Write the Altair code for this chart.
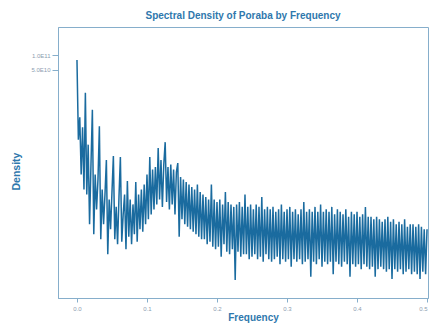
import altair as alt
import pandas as pd

# Periodogram (log10 of the density), frequency grid step 0.002
log10_density = [
    10.90, 9.30, 9.75, 8.60, 9.55, 8.30, 10.24, 8.20, 9.20, 7.60,
    8.80, 9.90, 7.40, 8.60, 7.90, 8.50, 9.57, 7.30, 8.30, 7.60,
    8.20, 8.89, 7.00, 8.10, 7.50, 8.25, 8.97, 7.30, 7.95, 7.20,
    8.15, 8.95, 7.25, 7.80, 8.20, 7.10, 8.47, 7.35, 8.10, 7.20,
    8.00, 7.40, 8.45, 7.25, 8.20, 7.50, 8.30, 7.45, 8.40, 7.60,
    8.60, 7.70, 8.95, 7.80, 8.70, 7.90, 8.75, 8.00, 9.13, 8.10,
    8.89, 7.95, 8.80, 9.25, 8.05, 8.75, 7.90, 8.80, 8.00, 8.70,
    7.80, 8.65, 8.83, 7.35, 8.55, 7.70, 8.50, 7.60, 8.45, 7.55,
    8.40, 7.50, 8.35, 7.45, 8.30, 7.40, 8.40, 7.35, 8.25, 7.30,
    8.20, 7.30, 8.15, 7.20, 8.10, 7.25, 8.40, 7.15, 8.10, 7.10,
    8.05, 7.15, 8.10, 6.95, 8.00, 7.20, 8.25, 7.05, 8.05, 7.00,
    8.00, 7.10, 7.95, 6.48, 8.00, 7.05, 8.05, 6.95, 7.95, 7.00,
    8.20, 7.00, 7.95, 6.90, 8.00, 6.95, 7.90, 7.00, 8.00, 6.90,
    7.95, 6.95, 8.15, 6.85, 7.90, 7.00, 7.95, 6.90, 7.90, 6.85,
    7.95, 6.90, 7.85, 6.95, 7.90, 6.80, 8.00, 6.90, 7.85, 6.85,
    7.90, 6.90, 7.95, 6.75, 7.85, 6.90, 7.90, 6.85, 7.80, 6.90,
    7.90, 6.80, 8.05, 6.85, 7.85, 6.90, 7.90, 6.55, 7.85, 6.85,
    7.95, 6.80, 7.85, 6.90, 8.00, 6.75, 7.85, 6.85, 7.90, 6.80,
    7.85, 6.85, 7.95, 6.60, 7.80, 6.85, 7.90, 6.80, 7.85, 6.75,
    7.80, 6.85, 7.90, 6.80, 7.75, 6.55, 7.85, 6.80, 7.80, 6.75,
    7.85, 6.80, 7.75, 6.70, 7.80, 6.80, 7.95, 6.75, 7.75, 6.70,
    7.75, 6.75, 7.70, 6.55, 7.75, 6.70, 7.70, 6.75, 7.65, 6.70,
    7.70, 6.65, 7.75, 6.70, 7.65, 6.50, 7.70, 6.70, 7.60, 6.65,
    7.65, 6.70, 7.60, 6.60, 7.70, 6.65, 7.55, 6.70, 7.60, 6.60,
    7.60, 6.65, 7.55, 6.60, 7.60, 6.50, 7.55, 6.65, 7.50, 6.60,
    7.50,
]
n_points = len(log10_density)
frequency = [round(i * 0.002, 3) for i in range(n_points)]

df = pd.DataFrame({
    "Frequency": frequency,
    "Density": [10 ** v for v in log10_density],
})

axis_col = "#86aecb"
label_col = "#8c9db0"
title_col = "#2f78ad"
line_col = "#1a6b9f"

chart = alt.Chart(df).mark_line(color=line_col, strokeWidth=1.5).encode(
    x=alt.X("Frequency:Q",
            scale=alt.Scale(domain=[-0.0271, 0.5014], nice=False, zero=False),
            axis=alt.Axis(values=[0, 0.1, 0.2, 0.3, 0.4, 0.5], format=".1f",
                          grid=False, tickSize=4, labelPadding=3,
                          labelFontSize=6, labelColor=label_col,
                          domainColor=axis_col, tickColor=axis_col,
                          title="Frequency", titleFontSize=10,
                          titleFontWeight="bold", titleColor=title_col,
                          titlePadding=1, titleX=195)),
    y=alt.Y("Density:Q",
            scale=alt.Scale(type="log", domain=[1.32e6, 3.65e11], nice=False),
            axis=alt.Axis(values=[5e10, 1e11],
                          labelExpr="datum.value >= 1e11 ? '1.0E11' : '5.0E10'",
                          grid=False, tickSize=6, labelPadding=2,
                          labelFontSize=6, labelColor=label_col,
                          domainColor=axis_col, tickColor=axis_col,
                          title="Density", titleFontSize=10.5,
                          titleFontWeight="bold", titleColor=title_col,
                          titleX=-37, titleY=144)),
).properties(
    width=370,
    height=271,
    autosize=alt.AutoSizeParams(type="none"),
    padding={"left": 50, "top": 19, "right": 1, "bottom": 27},
    title=alt.TitleParams("Spectral Density of Poraba by Frequency",
                          fontSize=10, fontWeight="bold", color=title_col,
                          offset=6, font="Liberation Sans"),
).configure_view(
    stroke=axis_col, strokeWidth=1
).configure_axis(
    labelFont="Liberation Sans", titleFont="Liberation Sans"
)

chart.save("out.html", embed_options={"renderer": "svg", "actions": False})
